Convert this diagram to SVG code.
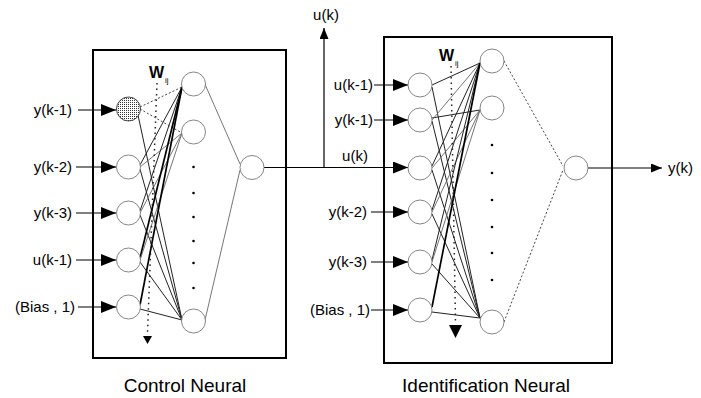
<svg xmlns="http://www.w3.org/2000/svg" width="701" height="398" viewBox="0 0 701 398">
<defs>
<pattern id="stip" width="2" height="2" patternUnits="userSpaceOnUse"><rect width="2" height="2" fill="#fff"/><rect width="1" height="1" fill="#333"/></pattern>
<marker id="ah" viewBox="0 0 15 12" refX="15" refY="6" markerWidth="15" markerHeight="12" markerUnits="userSpaceOnUse" orient="auto"><path d="M0,0 L15,6 L0,12 Z" fill="#000"/></marker>
<marker id="ahs" viewBox="0 0 11 9" refX="11" refY="4.5" markerWidth="11" markerHeight="9" markerUnits="userSpaceOnUse" orient="auto"><path d="M0,0 L11,4.5 L0,9 Z" fill="#000"/></marker>
</defs>
<style>
.box{fill:none;stroke:#000;stroke-width:2}
.node{fill:#fff;stroke:#777;stroke-width:0.9}
.lbl{font-family:"Liberation Sans",Arial,sans-serif;font-size:15px;fill:#000}
.ttl{font-family:"Liberation Sans",Arial,sans-serif;font-size:19px;fill:#000}
.wt{font-family:"Liberation Sans",Arial,sans-serif;font-size:16px;font-weight:bold;fill:#000}
.sub{font-family:"Liberation Sans",Arial,sans-serif;font-size:8px;fill:#000}
.in{stroke:#000;stroke-width:1.2;fill:none;marker-end:url(#ah)}
.w{stroke:#222;stroke-width:1;fill:none}
.wb{stroke:#000;stroke-width:1.7;fill:none}
.wd{stroke:#444;stroke-width:1;stroke-dasharray:2 2;fill:none}
.wl{stroke:#666;stroke-width:0.9;fill:none}
.dot{fill:#000}
.vdot{stroke:#222;stroke-width:1.5;stroke-dasharray:1.5 4;fill:none}
</style>
<rect class="box" x="93" y="50" width="193" height="308"/>
<rect class="box" x="384" y="37" width="228" height="326"/>
<g id="connectors">
<line class="wd" x1="140" y1="107" x2="182" y2="87"/>
<line class="wd" x1="140" y1="109" x2="182" y2="133"/>
<line class="w" x1="138" y1="115" x2="182" y2="320"/>
<line class="w" x1="140" y1="165" x2="182" y2="87"/>
<line class="wl" x1="140" y1="167" x2="182" y2="133"/>
<line class="w" x1="140" y1="169" x2="182" y2="320"/>
<line class="w" x1="140" y1="211" x2="182" y2="87"/>
<line class="wl" x1="140" y1="213" x2="182" y2="133"/>
<line class="w" x1="140" y1="215" x2="182" y2="320"/>
<line class="wb" x1="140" y1="258" x2="182" y2="87"/>
<line class="wl" x1="140" y1="260" x2="182" y2="133"/>
<line class="w" x1="140" y1="262" x2="182" y2="320"/>
<line class="wb" x1="140" y1="305" x2="182" y2="87"/>
<line class="w" x1="140" y1="309" x2="182" y2="320"/>
<line class="wl" x1="204" y1="82" x2="240" y2="164"/>
<line class="wl" x1="205" y1="320" x2="240" y2="170"/>
<line class="w" x1="432" y1="85" x2="480" y2="63"/>
<line class="w" x1="432" y1="87" x2="480" y2="318"/>
<line class="w" x1="432" y1="118" x2="480" y2="110"/>
<line class="w" x1="432" y1="121" x2="480" y2="318"/>
<line class="wl" x1="432" y1="120" x2="480" y2="63"/>
<line class="w" x1="432" y1="166" x2="480" y2="63"/>
<line class="wl" x1="432" y1="168" x2="480" y2="110"/>
<line class="w" x1="432" y1="170" x2="480" y2="318"/>
<line class="w" x1="432" y1="210" x2="480" y2="63"/>
<line class="wl" x1="432" y1="212" x2="480" y2="110"/>
<line class="w" x1="432" y1="214" x2="480" y2="318"/>
<line class="w" x1="432" y1="260" x2="480" y2="63"/>
<line class="wl" x1="432" y1="262" x2="480" y2="110"/>
<line class="w" x1="432" y1="264" x2="480" y2="318"/>
<line class="wb" x1="432" y1="307" x2="480" y2="63"/>
<line class="w" x1="432" y1="312" x2="480" y2="318"/>
<line class="wd" x1="504" y1="61" x2="563" y2="166"/>
<line class="wd" x1="504" y1="322" x2="563" y2="170"/>
<line class="vdot" x1="157" y1="83" x2="147.5" y2="333"/>
<path d="M143,336 L152,336 L147.5,344 Z" fill="#000"/>
<line class="vdot" x1="451" y1="66" x2="455.5" y2="322"/>
<path d="M449,325 L462,325 L455.5,338 Z" fill="#000"/>
<line class="in" x1="78" y1="110" x2="116" y2="110"/>
<line class="in" x1="76" y1="167" x2="116" y2="167"/>
<line class="in" x1="76" y1="213" x2="116" y2="213"/>
<line class="in" x1="76" y1="260" x2="116" y2="260"/>
<line class="in" x1="78" y1="307" x2="116" y2="307"/>
<line x1="264" y1="167.5" x2="408" y2="167.5" stroke="#000" stroke-width="1.2" marker-end="url(#ah)"/>
<line x1="324" y1="167.5" x2="324" y2="28" stroke="#000" stroke-width="1.2" marker-end="url(#ahs)"/>
<line class="in" x1="374" y1="85" x2="408" y2="85"/>
<line class="in" x1="374" y1="120" x2="408" y2="120"/>
<line class="in" x1="371" y1="212" x2="408" y2="212"/>
<line class="in" x1="371" y1="262" x2="408" y2="262"/>
<line class="in" x1="371" y1="310" x2="408" y2="310"/>
<line x1="588" y1="168" x2="662" y2="168" stroke="#000" stroke-width="1.2" marker-end="url(#ahs)"/>
</g>
<g id="ctrl-in1"><circle cx="128.5" cy="109" r="12" fill="url(#stip)" stroke="#444" stroke-width="1"/></g>
<g id="ctrl-in2"><circle class="node" cx="128.5" cy="167" r="12"/></g>
<g id="ctrl-in3"><circle class="node" cx="128.5" cy="213" r="12"/></g>
<g id="ctrl-in4"><circle class="node" cx="128.5" cy="260" r="12"/></g>
<g id="ctrl-in5"><circle class="node" cx="128.5" cy="307" r="12"/></g>
<g id="ctrl-h1"><circle class="node" cx="193.5" cy="84" r="12"/></g>
<g id="ctrl-h2"><circle class="node" cx="193.5" cy="132" r="12"/></g>
<g id="ctrl-hdots">
<circle class="dot" cx="193.5" cy="167" r="1.3"/><circle class="dot" cx="193.5" cy="193" r="1.3"/><circle class="dot" cx="193.5" cy="217" r="1.3"/><circle class="dot" cx="193.5" cy="241" r="1.3"/><circle class="dot" cx="193.5" cy="263" r="1.3"/><circle class="dot" cx="193.5" cy="288" r="1.3"/>
</g>
<g id="ctrl-h3"><circle class="node" cx="193.5" cy="321" r="12"/></g>
<g id="ctrl-out"><circle class="node" cx="252" cy="167.5" r="12"/></g>
<g id="id-in1"><circle class="node" cx="420" cy="85" r="12"/></g>
<g id="id-in2"><circle class="node" cx="420" cy="120" r="12"/></g>
<g id="id-in3"><circle class="node" cx="420" cy="168" r="12"/></g>
<g id="id-in4"><circle class="node" cx="420" cy="212" r="12"/></g>
<g id="id-in5"><circle class="node" cx="420" cy="262" r="12"/></g>
<g id="id-in6"><circle class="node" cx="420" cy="310" r="12"/></g>
<g id="id-h1"><circle class="node" cx="492" cy="61" r="12"/></g>
<g id="id-h2"><circle class="node" cx="492" cy="108" r="12"/></g>
<g id="id-hdots">
<circle class="dot" cx="492" cy="145" r="1.3"/><circle class="dot" cx="492" cy="173" r="1.3"/><circle class="dot" cx="492" cy="200" r="1.3"/><circle class="dot" cx="492" cy="227" r="1.3"/><circle class="dot" cx="492" cy="253" r="1.3"/><circle class="dot" cx="492" cy="280" r="1.3"/>
</g>
<g id="id-h3"><circle class="node" cx="492" cy="322" r="12"/></g>
<g id="id-out"><circle class="node" cx="576" cy="168" r="12"/></g>
<g id="labels">
<text class="lbl" x="72" y="115" text-anchor="end">y(k-1)</text>
<text class="lbl" x="72" y="172" text-anchor="end">y(k-2)</text>
<text class="lbl" x="72" y="218" text-anchor="end">y(k-3)</text>
<text class="lbl" x="72" y="265" text-anchor="end">u(k-1)</text>
<text class="lbl" x="75" y="312" text-anchor="end">(Bias , 1)</text>
<text class="wt" x="149" y="78">W</text><text class="sub" x="165" y="83">ij</text>
<text class="lbl" x="373" y="90" text-anchor="end">u(k-1)</text>
<text class="lbl" x="373" y="125" text-anchor="end">y(k-1)</text>
<text class="lbl" x="355" y="161" text-anchor="middle">u(k)</text>
<text class="lbl" x="367" y="217" text-anchor="end">y(k-2)</text>
<text class="lbl" x="367" y="267" text-anchor="end">y(k-3)</text>
<text class="lbl" x="370" y="315" text-anchor="end">(Bias , 1)</text>
<text class="wt" x="439" y="61">W</text><text class="sub" x="455" y="66">ij</text>
<text class="lbl" x="326" y="20" text-anchor="middle">u(k)</text>
<text class="lbl" x="668" y="173">y(k)</text>
<text class="ttl" x="185" y="392" text-anchor="middle">Control Neural</text>
<text class="ttl" x="486" y="392" text-anchor="middle">Identification Neural</text>
</g>
</svg>
